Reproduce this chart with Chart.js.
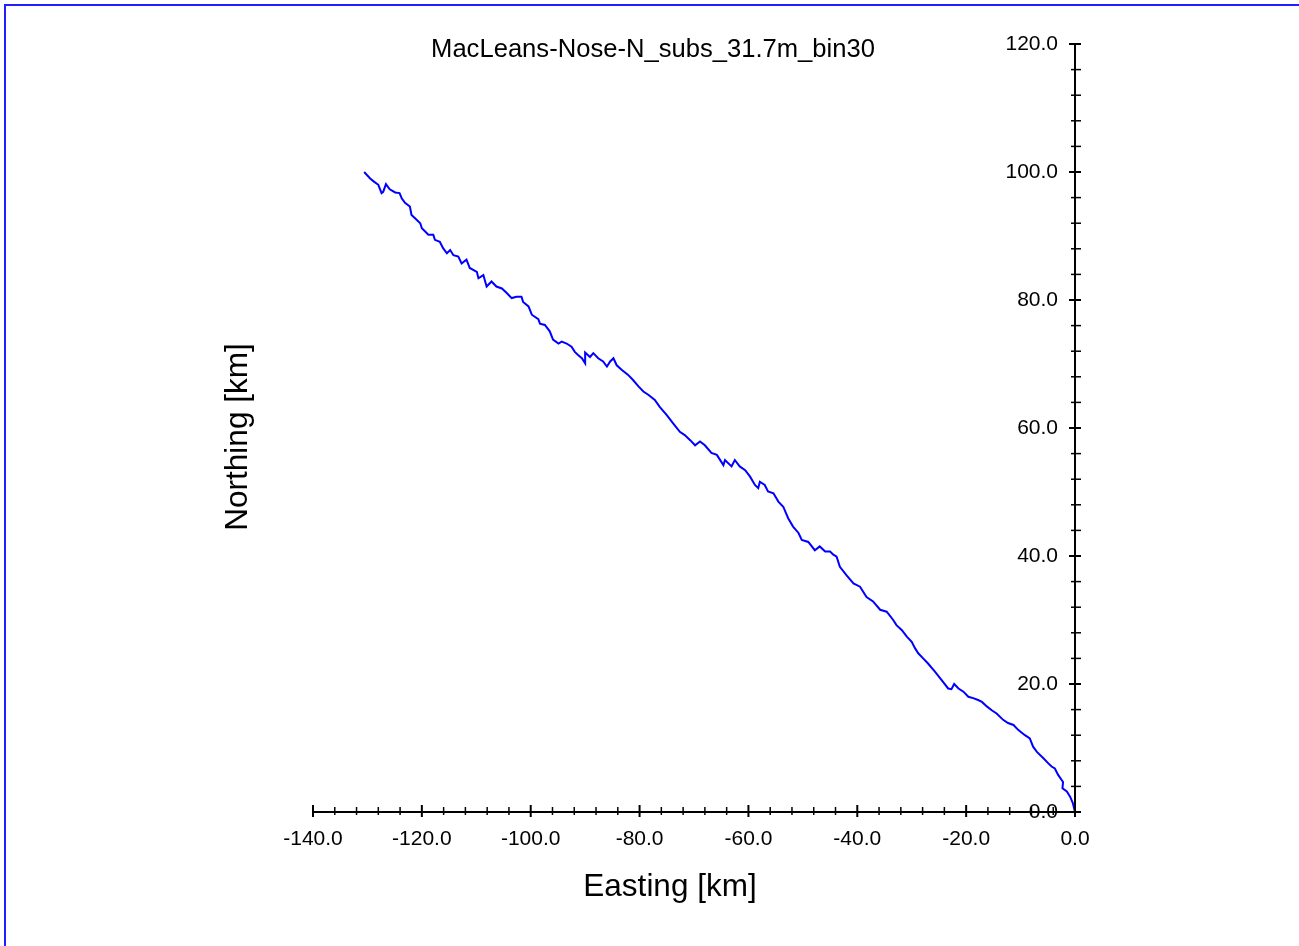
<!DOCTYPE html>
<html lang="en">
<head>
<meta charset="UTF-8">
<title>MacLeans-Nose-N_subs_31.7m_bin30</title>
<script src="https://cdn.jsdelivr.net/npm/chart.js"></script>
<style>
  html, body { margin: 0; padding: 0; background: #fff; }
  #wrap { position: relative; width: 1299px; height: 946px; overflow: hidden; }
  #frame { position: absolute; left: 4px; top: 4px; width: 1400px; height: 1000px;
           border-top: 2px solid #1f1fff; border-left: 2px solid #1f1fff; pointer-events: none; }
  canvas { position: absolute; left: 0; top: 0; }
</style>
</head>
<body>
<div id="wrap">
  <canvas id="myChart" width="1299" height="946"></canvas>
  <div id="frame"></div>
</div>
<script>
const chartTitle = 'MacLeans-Nose-N_subs_31.7m_bin30';
const xTitle = 'Easting [km]';
const yTitle = 'Northing [km]';

// axis ranges / tick spacing
const xRange = [-140, 0];
const yRange = [0, 120];
const majorStep = 20;
const minorStep = 4;

// track (km)
const eastingKm = [
  -130.6, -129.5, -128.8, -128.0, -127.4, -127.1, -126.6, -125.9, -124.9, -124.1,
  -123.7, -123.1, -122.2, -121.9, -121.3, -120.3, -120.0, -118.8, -117.9, -117.6,
  -116.7, -116.1, -115.4, -114.8, -114.2, -113.3, -112.7, -111.8, -111.2, -109.9,
  -109.6, -108.7, -108.1, -107.2, -106.3, -105.3, -104.4, -103.5, -102.6, -101.7,
  -101.4, -100.4, -99.8, -98.6, -98.3, -97.4, -96.5, -95.9, -94.9, -94.3,
  -93.4, -92.5, -91.9, -91.3, -90.6, -90.0, -90.0, -89.1, -88.5, -87.6,
  -86.7, -86.0, -85.4, -84.8, -84.2, -83.3, -82.1, -81.2, -80.2, -79.3,
  -78.4, -77.2, -76.3, -75.0, -73.8, -72.6, -71.7, -70.7, -69.8, -68.9,
  -68.0, -66.8, -65.8, -64.6, -64.3, -63.1, -62.5, -61.6, -60.6, -59.7,
  -58.8, -58.2, -57.9, -57.0, -56.4, -55.4, -54.5, -53.6, -52.7, -51.8,
  -50.8, -50.2, -49.0, -47.8, -46.9, -45.9, -45.0, -44.4, -43.8, -43.2,
  -42.0, -40.7, -39.5, -38.3, -37.1, -35.8, -34.6, -33.4, -32.8, -31.8,
  -30.9, -30.0, -29.4, -28.8, -27.9, -27.0, -25.7, -24.5, -23.3, -22.7,
  -22.2, -21.4, -20.5, -19.6, -18.7, -17.8, -17.1, -16.2, -15.3, -14.4,
  -13.2, -12.3, -11.3, -10.4, -9.2, -8.3, -7.7, -7.0, -5.8, -4.9,
  -4.3, -3.7, -3.1, -2.2, -2.3, -1.5, -0.9, -0.4, 0.0
];
const northingKm = [
  100.0, 99.0, 98.5, 98.0, 96.7, 96.9, 98.1, 97.3, 96.8, 96.7,
  95.9, 95.2, 94.6, 93.3, 92.8, 92.0, 91.2, 90.2, 90.2, 89.4,
  89.1, 88.1, 87.3, 87.8, 87.0, 86.8, 85.7, 86.3, 85.0, 84.4,
  83.4, 83.9, 82.1, 82.9, 82.1, 81.8, 81.1, 80.3, 80.5, 80.5,
  79.7, 79.0, 77.7, 77.0, 76.3, 76.1, 75.1, 73.8, 73.2, 73.5,
  73.2, 72.7, 71.9, 71.4, 70.9, 70.1, 71.8, 71.1, 71.7, 70.9,
  70.4, 69.6, 70.4, 70.9, 69.8, 69.1, 68.3, 67.5, 66.5, 65.7,
  65.2, 64.4, 63.3, 62.0, 60.7, 59.4, 58.9, 58.1, 57.3, 57.9,
  57.3, 56.1, 55.8, 54.2, 55.0, 54.0, 55.0, 54.0, 53.4, 52.4,
  51.1, 50.6, 51.6, 51.1, 50.1, 49.8, 48.5, 47.7, 45.9, 44.6,
  43.6, 42.5, 42.2, 40.9, 41.5, 40.7, 40.7, 40.2, 39.9, 38.3,
  37.0, 35.7, 35.2, 33.6, 32.9, 31.6, 31.3, 30.0, 29.2, 28.4,
  27.4, 26.6, 25.6, 24.8, 24.0, 23.2, 21.9, 20.6, 19.3, 19.2,
  20.0, 19.3, 18.8, 18.0, 17.8, 17.5, 17.2, 16.5, 15.9, 15.4,
  14.4, 13.9, 13.6, 12.8, 12.0, 11.5, 10.2, 9.4, 8.4, 7.6,
  7.1, 6.8, 5.8, 4.7, 3.7, 3.2, 2.4, 1.4, 0.0
];

const fontFamily = 'Arial, "Liberation Sans", sans-serif';

// axes drawn crossing-tick style, plus chart and axis titles
const axesPlugin = {
  id: 'axesPlugin',
  afterDraw(chart) {
    const { ctx, chartArea: a, scales: { x, y } } = chart;
    const y0 = y.getPixelForValue(yRange[0]);
    const x0 = x.getPixelForValue(xRange[1]);
    ctx.save();
    ctx.strokeStyle = '#000';
    ctx.lineWidth = 2;
    ctx.beginPath();
    ctx.moveTo(a.left, y0);
    ctx.lineTo(a.right, y0);
    ctx.moveTo(x0, a.top);
    ctx.lineTo(x0, a.bottom);
    ctx.stroke();

    for (let v = xRange[0]; v <= xRange[1]; v += minorStep) {
      const px = x.getPixelForValue(v);
      const major = v % majorStep === 0;
      ctx.lineWidth = major ? 2 : 1.5;
      ctx.beginPath();
      ctx.moveTo(px, y0 - (major ? 7 : 5));
      ctx.lineTo(px, y0 + (major ? 5 : 3));
      ctx.stroke();
    }
    for (let v = yRange[0]; v <= yRange[1]; v += minorStep) {
      const py = y.getPixelForValue(v);
      const major = v % majorStep === 0;
      ctx.lineWidth = major ? 2 : 1.5;
      ctx.beginPath();
      ctx.moveTo(x0 - (major ? 6 : 4), py);
      ctx.lineTo(x0 + 6, py);
      ctx.stroke();
    }

    ctx.fillStyle = '#000';
    ctx.textAlign = 'center';
    ctx.textBaseline = 'middle';
    ctx.font = '25.6px ' + fontFamily;
    ctx.fillText(chartTitle, 653, 50);
    ctx.font = '31.5px ' + fontFamily;
    ctx.fillText(xTitle, 670, 887);
    ctx.translate(238, 437);
    ctx.rotate(-Math.PI / 2);
    ctx.fillText(yTitle, 0, 0);
    ctx.restore();
  }
};

const ctx = document.getElementById('myChart').getContext('2d');
new Chart(ctx, {
  type: 'scatter',
  data: {
    datasets: [{
      data: eastingKm.map((e, i) => ({ x: e, y: northingKm[i] })),
      showLine: true,
      borderColor: '#0000ff',
      borderWidth: 2,
      pointRadius: 0,
      tension: 0
    }]
  },
  options: {
    responsive: false,
    animation: false,
    devicePixelRatio: 1,
    layout: { padding: { left: 313, right: 0, top: 44, bottom: 0 } },
    plugins: {
      legend: { display: false },
      tooltip: { enabled: false },
      title: { display: false }
    },
    scales: {
      x: {
        type: 'linear',
        position: 'bottom',
        min: xRange[0],
        max: xRange[1],
        grid: { display: false, drawTicks: false },
        border: { display: false },
        ticks: {
          stepSize: majorStep,
          padding: 15,
          color: '#000',
          maxRotation: 0,
          font: { family: fontFamily, size: 21 },
          callback: v => Number(v).toFixed(1)
        },
        afterFit: s => { s.height = 134; }
      },
      y: {
        type: 'linear',
        position: 'right',
        min: yRange[0],
        max: yRange[1],
        grid: { display: false, drawTicks: false },
        border: { display: false },
        ticks: {
          stepSize: majorStep,
          mirror: true,
          padding: -17,
          color: '#000',
          font: { family: fontFamily, size: 21 },
          callback: v => Number(v).toFixed(1)
        },
        afterFit: s => { s.width = 224; }
      }
    }
  },
  plugins: [axesPlugin]
});
</script>
</body>
</html>
